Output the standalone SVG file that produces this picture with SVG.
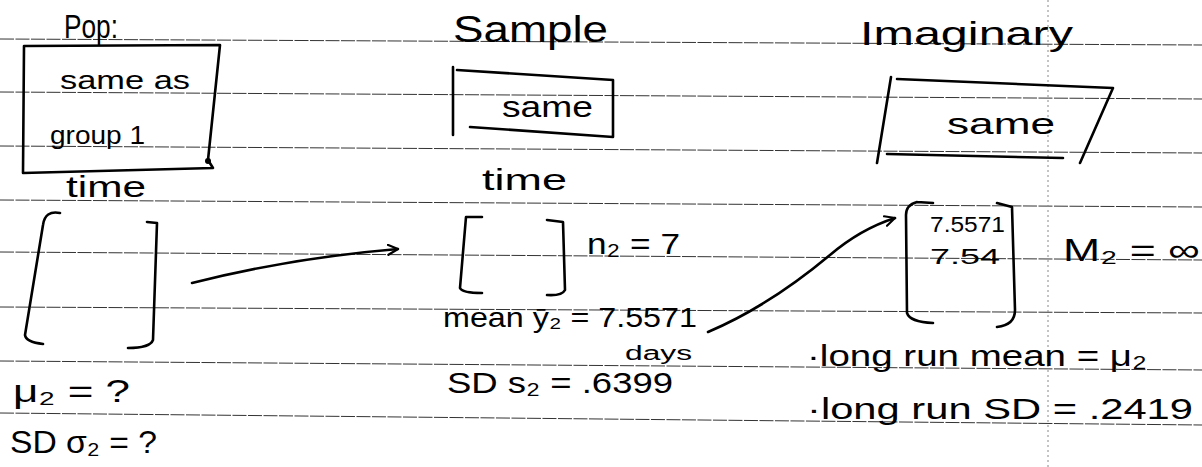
<svg xmlns="http://www.w3.org/2000/svg" width="1202" height="467" viewBox="0 0 1202 467">
<style>
.rule{stroke:#333;stroke-width:1;stroke-dasharray:14 1.5;fill:none}
.vr{stroke:#888;stroke-width:1;stroke-dasharray:2 3;fill:none}
.ink{stroke:#000;stroke-width:2.6;fill:none;stroke-linecap:round;stroke-linejoin:round}
.t{font-family:"Liberation Sans",Arial,sans-serif;fill:#000}
</style>
<defs>
<marker id="ah" viewBox="0 0 12 12" refX="11" refY="6" markerWidth="12" markerHeight="12" markerUnits="userSpaceOnUse" orient="auto">
<path d="M1,1 L11,6 L1,11" fill="none" stroke="#000" stroke-width="2.2" stroke-linecap="round"/>
</marker>
</defs>
<rect width="1202" height="467" fill="#fff"/>
<g id="paper">
<line class="rule" x1="0" y1="39" x2="1202" y2="45"/>
<line class="rule" x1="0" y1="92" x2="1202" y2="99"/>
<line class="rule" x1="0" y1="146" x2="1202" y2="153"/>
<line class="rule" x1="0" y1="200" x2="1202" y2="207"/>
<line class="rule" x1="0" y1="252" x2="1202" y2="260"/>
<line class="rule" x1="0" y1="307" x2="1202" y2="313"/>
<line class="rule" x1="0" y1="361" x2="1202" y2="370"/>
<line class="rule" x1="0" y1="413" x2="1202" y2="425"/>
<line class="vr" x1="1048" y1="0" x2="1048" y2="467"/>
</g>
<g id="population">
<text class="t" x="64" y="38" font-size="34" textLength="54" lengthAdjust="spacingAndGlyphs">Pop:</text>
<path class="ink" d="M24,46 L220,45 L208,160 M208,160 L213,168 L23,173 L24,46"/>
<circle cx="208" cy="161" r="3"/>
<text class="t" x="60" y="89" font-size="26" textLength="130" lengthAdjust="spacingAndGlyphs">same as</text>
<text class="t" x="50" y="144" font-size="26" textLength="95" lengthAdjust="spacingAndGlyphs">group 1</text>
<text class="t" x="66" y="197" font-size="30" textLength="80" lengthAdjust="spacingAndGlyphs">time</text>
<path class="ink" d="M60,213 Q45,210 43,225 L25,335 Q26,342 43,344"/>
<path class="ink" d="M147,222 L157,223 L153,340 Q150,348 128,348"/>
<text class="t" x="13" y="402" font-size="32" textLength="117" lengthAdjust="spacingAndGlyphs">μ₂ = ?</text>
<text class="t" x="10" y="453" font-size="32" textLength="147" lengthAdjust="spacingAndGlyphs">SD σ₂ = ?</text>
</g>
<g id="sample">
<text class="t" x="453" y="42" font-size="36" textLength="155" lengthAdjust="spacingAndGlyphs">Sample</text>
<path class="ink" d="M453,67 L453,135 M457,70 L613,80 L613,137 L470,127"/>
<text class="t" x="502" y="117" font-size="30" textLength="91" lengthAdjust="spacingAndGlyphs">same</text>
<text class="t" x="482" y="190" font-size="30" textLength="85" lengthAdjust="spacingAndGlyphs">time</text>
<path class="ink" d="M482,217 L466,217 L460,288 Q462,293 482,293"/>
<path class="ink" d="M547,220 L563,222 L565,290 Q562,296 547,295"/>
<text class="t" x="587" y="254" font-size="30" textLength="93" lengthAdjust="spacingAndGlyphs">n₂ = 7</text>
<text class="t" x="443" y="327" font-size="28" textLength="254" lengthAdjust="spacingAndGlyphs">mean ȳ₂ = 7.5571</text>
<text class="t" x="625" y="360" font-size="20" textLength="67" lengthAdjust="spacingAndGlyphs">days</text>
<text class="t" x="447" y="393" font-size="30" textLength="226" lengthAdjust="spacingAndGlyphs">SD s₂ = .6399</text>
</g>
<g id="imaginary">
<text class="t" x="860" y="45" font-size="34" textLength="213" lengthAdjust="spacingAndGlyphs">Imaginary</text>
<path class="ink" d="M891,77 L877,163 M897,79 L1113,88 L1080,163 M887,154 L1063,158"/>
<text class="t" x="947" y="134" font-size="30" textLength="108" lengthAdjust="spacingAndGlyphs">same</text>
<path class="ink" d="M917,202 L933,203 M917,202 Q906,205 906,215 L907,313 Q910,322 933,323"/>
<path class="ink" d="M997,203 L1012,207 L1015,310 Q1015,325 997,327"/>
<text class="t" x="930" y="232" font-size="22" textLength="75" lengthAdjust="spacingAndGlyphs">7.5571</text>
<text class="t" x="930" y="264" font-size="22" textLength="70" lengthAdjust="spacingAndGlyphs">7.54</text>
<text class="t" x="1063" y="261" font-size="32" textLength="137" lengthAdjust="spacingAndGlyphs">M₂ = ∞</text>
<text class="t" x="807" y="366" font-size="30" textLength="340" lengthAdjust="spacingAndGlyphs">·long run mean = μ₂</text>
<text class="t" x="807" y="419" font-size="30" textLength="386" lengthAdjust="spacingAndGlyphs">·long run SD = .2419</text>
</g>
<g id="connectors">
<path class="ink" d="M192,283 Q290,258 398,249" marker-end="url(#ah)"/>
<path class="ink" d="M708,332 C760,310 800,280 830,255 C850,238 870,226 895,218" marker-end="url(#ah)"/>
</g>
</svg>
